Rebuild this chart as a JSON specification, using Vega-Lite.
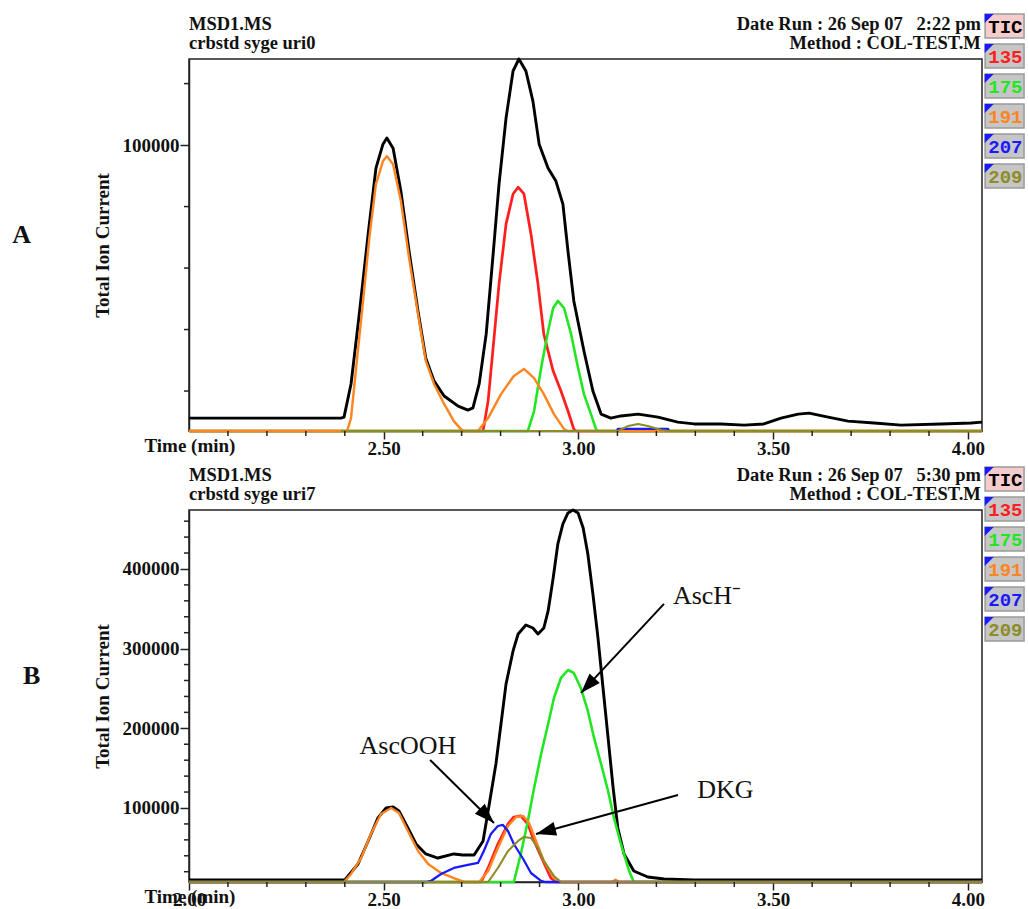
{
"$schema": "https://vega.github.io/schema/vega-lite/v6.json",
"background": "white",
"padding": {"left": 11, "top": 12, "right": 4, "bottom": 2},
"bounds": "flush",
"spacing": 79,
"config": {
 "view": {"stroke": "#222", "strokeWidth": 1.5},
 "axis": {"labelFont": "Liberation Serif", "labelFontWeight": "bold", "labelFontSize": 19, "labelColor": "#111", "titleFont": "Liberation Serif", "titleFontWeight": "bold", "titleFontSize": 19, "titleColor": "#111", "domainColor": "#222", "domainWidth": 1.5, "tickColor": "#222", "tickWidth": 1.5, "grid": false, "labelFlush": false},
 "text": {"color": "#111"}
},
"datasets": {
 "tr": [
  {"p":"A","s":"TIC","t":2.000,"v":11200},{"p":"A","s":"TIC","t":2.390,"v":11200},{"p":"A","s":"TIC","t":2.398,"v":11500},{"p":"A","s":"TIC","t":2.416,"v":22300},{"p":"A","s":"TIC","t":2.436,"v":43700},{"p":"A","s":"TIC","t":2.460,"v":71100},{"p":"A","s":"TIC","t":2.480,"v":92500},{"p":"A","s":"TIC","t":2.498,"v":100300},{"p":"A","s":"TIC","t":2.508,"v":102300},{"p":"A","s":"TIC","t":2.524,"v":99000},{"p":"A","s":"TIC","t":2.544,"v":85000},{"p":"A","s":"TIC","t":2.565,"v":65500},{"p":"A","s":"TIC","t":2.588,"v":46000},{"p":"A","s":"TIC","t":2.608,"v":30700},{"p":"A","s":"TIC","t":2.629,"v":23300},{"p":"A","s":"TIC","t":2.655,"v":18400},{"p":"A","s":"TIC","t":2.691,"v":15100},{"p":"A","s":"TIC","t":2.716,"v":13800},{"p":"A","s":"TIC","t":2.729,"v":14500},{"p":"A","s":"TIC","t":2.745,"v":22300},{"p":"A","s":"TIC","t":2.763,"v":38500},{"p":"A","s":"TIC","t":2.780,"v":63300},{"p":"A","s":"TIC","t":2.796,"v":87300},{"p":"A","s":"TIC","t":2.814,"v":108800},{"p":"A","s":"TIC","t":2.832,"v":124100},{"p":"A","s":"TIC","t":2.847,"v":128000},{"p":"A","s":"TIC","t":2.865,"v":124100},{"p":"A","s":"TIC","t":2.883,"v":114300},{"p":"A","s":"TIC","t":2.899,"v":100300},{"p":"A","s":"TIC","t":2.922,"v":92500},{"p":"A","s":"TIC","t":2.942,"v":88300},{"p":"A","s":"TIC","t":2.960,"v":80800},{"p":"A","s":"TIC","t":2.973,"v":65500},{"p":"A","s":"TIC","t":2.988,"v":49300},{"p":"A","s":"TIC","t":3.014,"v":33000},{"p":"A","s":"TIC","t":3.037,"v":20000},{"p":"A","s":"TIC","t":3.058,"v":12500},{"p":"A","s":"TIC","t":3.083,"v":11200},{"p":"A","s":"TIC","t":3.109,"v":11900},{"p":"A","s":"TIC","t":3.153,"v":12500},{"p":"A","s":"TIC","t":3.204,"v":11500},{"p":"A","s":"TIC","t":3.255,"v":9900},{"p":"A","s":"TIC","t":3.297,"v":9300},{"p":"A","s":"TIC","t":3.366,"v":9300},{"p":"A","s":"TIC","t":3.425,"v":8900},{"p":"A","s":"TIC","t":3.476,"v":9300},{"p":"A","s":"TIC","t":3.520,"v":11200},{"p":"A","s":"TIC","t":3.564,"v":12500},{"p":"A","s":"TIC","t":3.592,"v":12800},{"p":"A","s":"TIC","t":3.641,"v":11500},{"p":"A","s":"TIC","t":3.692,"v":10200},{"p":"A","s":"TIC","t":3.759,"v":9600},{"p":"A","s":"TIC","t":3.828,"v":8900},{"p":"A","s":"TIC","t":3.931,"v":9300},{"p":"A","s":"TIC","t":4.008,"v":9600},{"p":"A","s":"TIC","t":4.036,"v":9900},
  {"p":"A","s":"135","t":2.000,"v":7000},{"p":"A","s":"135","t":2.755,"v":7000},{"p":"A","s":"135","t":2.768,"v":16800},{"p":"A","s":"135","t":2.780,"v":33000},{"p":"A","s":"135","t":2.796,"v":54800},{"p":"A","s":"135","t":2.814,"v":74300},{"p":"A","s":"135","t":2.832,"v":84100},{"p":"A","s":"135","t":2.845,"v":86300},{"p":"A","s":"135","t":2.860,"v":84100},{"p":"A","s":"135","t":2.878,"v":71100},{"p":"A","s":"135","t":2.896,"v":54800},{"p":"A","s":"135","t":2.911,"v":38500},{"p":"A","s":"135","t":2.935,"v":26500},{"p":"A","s":"135","t":2.955,"v":20000},{"p":"A","s":"135","t":2.973,"v":13500},{"p":"A","s":"135","t":2.988,"v":7600},{"p":"A","s":"135","t":2.994,"v":7000},{"p":"A","s":"135","t":4.036,"v":7000},
  {"p":"A","s":"175","t":2.000,"v":7000},{"p":"A","s":"175","t":2.870,"v":7000},{"p":"A","s":"175","t":2.886,"v":13500},{"p":"A","s":"175","t":2.904,"v":27500},{"p":"A","s":"175","t":2.922,"v":39500},{"p":"A","s":"175","t":2.935,"v":47000},{"p":"A","s":"175","t":2.947,"v":49300},{"p":"A","s":"175","t":2.963,"v":47000},{"p":"A","s":"175","t":2.981,"v":38500},{"p":"A","s":"175","t":2.999,"v":27500},{"p":"A","s":"175","t":3.014,"v":19000},{"p":"A","s":"175","t":3.032,"v":12500},{"p":"A","s":"175","t":3.045,"v":7600},{"p":"A","s":"175","t":3.050,"v":7000},{"p":"A","s":"175","t":4.036,"v":7000},
  {"p":"A","s":"191","t":2.000,"v":7000},{"p":"A","s":"191","t":2.406,"v":7000},{"p":"A","s":"191","t":2.416,"v":11200},{"p":"A","s":"191","t":2.429,"v":27500},{"p":"A","s":"191","t":2.447,"v":49300},{"p":"A","s":"191","t":2.463,"v":69800},{"p":"A","s":"191","t":2.480,"v":87300},{"p":"A","s":"191","t":2.498,"v":94800},{"p":"A","s":"191","t":2.508,"v":96400},{"p":"A","s":"191","t":2.524,"v":93800},{"p":"A","s":"191","t":2.544,"v":81800},{"p":"A","s":"191","t":2.565,"v":63300},{"p":"A","s":"191","t":2.588,"v":45000},{"p":"A","s":"191","t":2.608,"v":29800},{"p":"A","s":"191","t":2.629,"v":22300},{"p":"A","s":"191","t":2.655,"v":15800},{"p":"A","s":"191","t":2.680,"v":10200},{"p":"A","s":"191","t":2.698,"v":7600},{"p":"A","s":"191","t":2.706,"v":7000},{"p":"A","s":"191","t":2.742,"v":7000},{"p":"A","s":"191","t":2.768,"v":11200},{"p":"A","s":"191","t":2.801,"v":19000},{"p":"A","s":"191","t":2.834,"v":24900},{"p":"A","s":"191","t":2.860,"v":27200},{"p":"A","s":"191","t":2.886,"v":24200},{"p":"A","s":"191","t":2.911,"v":19000},{"p":"A","s":"191","t":2.937,"v":12500},{"p":"A","s":"191","t":2.963,"v":7600},{"p":"A","s":"191","t":2.973,"v":7000},{"p":"A","s":"191","t":4.036,"v":7000},
  {"p":"A","s":"207","t":3.099,"v":7000},{"p":"A","s":"207","t":3.101,"v":7700},{"p":"A","s":"207","t":3.230,"v":7700},{"p":"A","s":"207","t":3.232,"v":7000},
  {"p":"A","s":"209","t":2.390,"v":7000},{"p":"A","s":"209","t":3.101,"v":7000},{"p":"A","s":"209","t":3.127,"v":8600},{"p":"A","s":"209","t":3.153,"v":9300},{"p":"A","s":"209","t":3.178,"v":8600},{"p":"A","s":"209","t":3.212,"v":7300},{"p":"A","s":"209","t":3.232,"v":7000},{"p":"A","s":"209","t":4.036,"v":7000},
  {"p":"B","s":"TIC","t":2.000,"v":9600},{"p":"B","s":"TIC","t":2.400,"v":9600},{"p":"B","s":"TIC","t":2.434,"v":29700},{"p":"B","s":"TIC","t":2.460,"v":58600},{"p":"B","s":"TIC","t":2.485,"v":87500},{"p":"B","s":"TIC","t":2.506,"v":100000},{"p":"B","s":"TIC","t":2.524,"v":101300},{"p":"B","s":"TIC","t":2.539,"v":96200},{"p":"B","s":"TIC","t":2.562,"v":74900},{"p":"B","s":"TIC","t":2.583,"v":54800},{"p":"B","s":"TIC","t":2.608,"v":42300},{"p":"B","s":"TIC","t":2.639,"v":37200},{"p":"B","s":"TIC","t":2.680,"v":42300},{"p":"B","s":"TIC","t":2.703,"v":41000},{"p":"B","s":"TIC","t":2.732,"v":41000},{"p":"B","s":"TIC","t":2.755,"v":58600},{"p":"B","s":"TIC","t":2.768,"v":96200},{"p":"B","s":"TIC","t":2.788,"v":155200},{"p":"B","s":"TIC","t":2.801,"v":205400},{"p":"B","s":"TIC","t":2.814,"v":255700},{"p":"B","s":"TIC","t":2.832,"v":297100},{"p":"B","s":"TIC","t":2.845,"v":318400},{"p":"B","s":"TIC","t":2.865,"v":329700},{"p":"B","s":"TIC","t":2.883,"v":325900},{"p":"B","s":"TIC","t":2.896,"v":318400},{"p":"B","s":"TIC","t":2.911,"v":325900},{"p":"B","s":"TIC","t":2.922,"v":347300},{"p":"B","s":"TIC","t":2.935,"v":388700},{"p":"B","s":"TIC","t":2.947,"v":431400},{"p":"B","s":"TIC","t":2.960,"v":456500},{"p":"B","s":"TIC","t":2.973,"v":470300},{"p":"B","s":"TIC","t":2.986,"v":474000},{"p":"B","s":"TIC","t":2.999,"v":470300},{"p":"B","s":"TIC","t":3.012,"v":451500},{"p":"B","s":"TIC","t":3.024,"v":418800},{"p":"B","s":"TIC","t":3.037,"v":368600},{"p":"B","s":"TIC","t":3.050,"v":313400},{"p":"B","s":"TIC","t":3.063,"v":250600},{"p":"B","s":"TIC","t":3.076,"v":187900},{"p":"B","s":"TIC","t":3.089,"v":125100},{"p":"B","s":"TIC","t":3.101,"v":74900},{"p":"B","s":"TIC","t":3.117,"v":42300},{"p":"B","s":"TIC","t":3.142,"v":20900},{"p":"B","s":"TIC","t":3.178,"v":13400},{"p":"B","s":"TIC","t":3.220,"v":10900},{"p":"B","s":"TIC","t":3.297,"v":9600},{"p":"B","s":"TIC","t":4.036,"v":9600},
  {"p":"B","s":"135","t":2.000,"v":7100},{"p":"B","s":"135","t":2.750,"v":7100},{"p":"B","s":"135","t":2.768,"v":24700},{"p":"B","s":"135","t":2.793,"v":54800},{"p":"B","s":"135","t":2.819,"v":79900},{"p":"B","s":"135","t":2.834,"v":88700},{"p":"B","s":"135","t":2.852,"v":90000},{"p":"B","s":"135","t":2.870,"v":79900},{"p":"B","s":"135","t":2.886,"v":58600},{"p":"B","s":"135","t":2.909,"v":33500},{"p":"B","s":"135","t":2.929,"v":12100},{"p":"B","s":"135","t":2.942,"v":7100},{"p":"B","s":"135","t":4.036,"v":7100},
  {"p":"B","s":"175","t":2.000,"v":7100},{"p":"B","s":"175","t":2.834,"v":7100},{"p":"B","s":"175","t":2.852,"v":42300},{"p":"B","s":"175","t":2.870,"v":83700},{"p":"B","s":"175","t":2.886,"v":125100},{"p":"B","s":"175","t":2.904,"v":167800},{"p":"B","s":"175","t":2.922,"v":205400},{"p":"B","s":"175","t":2.937,"v":238100},{"p":"B","s":"175","t":2.955,"v":263200},{"p":"B","s":"175","t":2.973,"v":273200},{"p":"B","s":"175","t":2.988,"v":269500},{"p":"B","s":"175","t":3.006,"v":250600},{"p":"B","s":"175","t":3.024,"v":221800},{"p":"B","s":"175","t":3.040,"v":187900},{"p":"B","s":"175","t":3.058,"v":155200},{"p":"B","s":"175","t":3.076,"v":121300},{"p":"B","s":"175","t":3.091,"v":87500},{"p":"B","s":"175","t":3.109,"v":54800},{"p":"B","s":"175","t":3.130,"v":20900},{"p":"B","s":"175","t":3.142,"v":7100},{"p":"B","s":"175","t":4.036,"v":7100},
  {"p":"B","s":"191","t":2.000,"v":7100},{"p":"B","s":"191","t":2.398,"v":7100},{"p":"B","s":"191","t":2.416,"v":17200},{"p":"B","s":"191","t":2.442,"v":37200},{"p":"B","s":"191","t":2.467,"v":67400},{"p":"B","s":"191","t":2.493,"v":92500},{"p":"B","s":"191","t":2.519,"v":100000},{"p":"B","s":"191","t":2.539,"v":93700},{"p":"B","s":"191","t":2.562,"v":71100},{"p":"B","s":"191","t":2.588,"v":46000},{"p":"B","s":"191","t":2.614,"v":29700},{"p":"B","s":"191","t":2.647,"v":18400},{"p":"B","s":"191","t":2.680,"v":12100},{"p":"B","s":"191","t":2.706,"v":7100},{"p":"B","s":"191","t":2.745,"v":7100},{"p":"B","s":"191","t":2.768,"v":20900},{"p":"B","s":"191","t":2.793,"v":49800},{"p":"B","s":"191","t":2.819,"v":77400},{"p":"B","s":"191","t":2.840,"v":88700},{"p":"B","s":"191","t":2.858,"v":90000},{"p":"B","s":"191","t":2.873,"v":81200},{"p":"B","s":"191","t":2.891,"v":58600},{"p":"B","s":"191","t":2.911,"v":33500},{"p":"B","s":"191","t":2.937,"v":12100},{"p":"B","s":"191","t":2.955,"v":7100},{"p":"B","s":"191","t":3.085,"v":7100},{"p":"B","s":"191","t":3.095,"v":10000},{"p":"B","s":"191","t":3.105,"v":7100},{"p":"B","s":"191","t":4.036,"v":7100},
  {"p":"B","s":"207","t":2.000,"v":7100},{"p":"B","s":"207","t":2.608,"v":7100},{"p":"B","s":"207","t":2.621,"v":8400},{"p":"B","s":"207","t":2.647,"v":17200},{"p":"B","s":"207","t":2.680,"v":24700},{"p":"B","s":"207","t":2.716,"v":28500},{"p":"B","s":"207","t":2.742,"v":31000},{"p":"B","s":"207","t":2.757,"v":46000},{"p":"B","s":"207","t":2.775,"v":67400},{"p":"B","s":"207","t":2.793,"v":77400},{"p":"B","s":"207","t":2.806,"v":78700},{"p":"B","s":"207","t":2.819,"v":71100},{"p":"B","s":"207","t":2.834,"v":54800},{"p":"B","s":"207","t":2.858,"v":36000},{"p":"B","s":"207","t":2.878,"v":18400},{"p":"B","s":"207","t":2.904,"v":8400},{"p":"B","s":"207","t":2.915,"v":7100},{"p":"B","s":"207","t":4.036,"v":7100},
  {"p":"B","s":"209","t":2.000,"v":7100},{"p":"B","s":"209","t":2.768,"v":7100},{"p":"B","s":"209","t":2.793,"v":24700},{"p":"B","s":"209","t":2.819,"v":46000},{"p":"B","s":"209","t":2.845,"v":58600},{"p":"B","s":"209","t":2.860,"v":63600},{"p":"B","s":"209","t":2.878,"v":62400},{"p":"B","s":"209","t":2.896,"v":49800},{"p":"B","s":"209","t":2.911,"v":33500},{"p":"B","s":"209","t":2.937,"v":14700},{"p":"B","s":"209","t":2.955,"v":7100},{"p":"B","s":"209","t":4.036,"v":7100}
 ],
 "ann": [
  {"p":"A","k":"hl","txt":"MSD1.MS","t":2.0,"v":137400},
  {"p":"A","k":"hl","txt":"crbstd syge uri0","t":2.0,"v":131200},
  {"p":"A","k":"hr","txt":"Date Run : 26 Sep 07\u00a0\u00a0\u00a02:22 pm","t":4.033,"v":137400},
  {"p":"A","k":"hr","txt":"Method : COL-TEST.M","t":4.033,"v":131200},
  {"p":"A","k":"pl","txt":"A","t":1.570,"v":68100},
  {"p":"B","k":"hl","txt":"MSD1.MS","t":2.0,"v":510400},
  {"p":"B","k":"hl","txt":"crbstd syge uri7","t":2.0,"v":486600},
  {"p":"B","k":"hr","txt":"Date Run : 26 Sep 07\u00a0\u00a0\u00a05:30 pm","t":4.033,"v":510400},
  {"p":"B","k":"hr","txt":"Method : COL-TEST.M","t":4.033,"v":486600},
  {"p":"B","k":"pl","txt":"B","t":1.596,"v":255700},
  {"p":"B","k":"an","txt":"AscH\u207b","t":3.330,"v":356100},
  {"p":"B","k":"an","txt":"AscOOH","t":2.562,"v":167800},
  {"p":"B","k":"an","txt":"DKG","t":3.377,"v":112600}
 ],
 "arr": [
  {"id":1,"t":3.2195,"v":356100,"t2":3.0064,"v2":244400},
  {"id":2,"t":2.619,"v":160300,"t2":2.783,"v2":81200},
  {"id":3,"t":3.2555,"v":116300,"t2":2.891,"v2":67400}
 ],
 "mt": [
  {"a":"x","m":2.1},{"a":"x","m":2.2},{"a":"x","m":2.3},{"a":"x","m":2.4},{"a":"x","m":2.6},{"a":"x","m":2.7},{"a":"x","m":2.8},{"a":"x","m":2.9},{"a":"x","m":3.1},{"a":"x","m":3.2},{"a":"x","m":3.3},{"a":"x","m":3.4},{"a":"x","m":3.6},{"a":"x","m":3.7},{"a":"x","m":3.8},{"a":"x","m":3.9},
  {"a":"yA","m":20000},{"a":"yA","m":40000},{"a":"yA","m":60000},{"a":"yA","m":80000},{"a":"yA","m":120000},
  {"a":"yB","m":20000},{"a":"yB","m":40000},{"a":"yB","m":60000},{"a":"yB","m":80000},{"a":"yB","m":120000},{"a":"yB","m":140000},{"a":"yB","m":160000},{"a":"yB","m":180000},{"a":"yB","m":220000},{"a":"yB","m":240000},{"a":"yB","m":260000},{"a":"yB","m":280000},{"a":"yB","m":320000},{"a":"yB","m":340000},{"a":"yB","m":360000},{"a":"yB","m":380000},{"a":"yB","m":420000},{"a":"yB","m":440000},{"a":"yB","m":460000}
 ],
 "leg": [{"s":"TIC"},{"s":"135"},{"s":"175"},{"s":"191"},{"s":"207"},{"s":"209"}]
},
"vconcat": [
 {
  "width": 793, "height": 372,
  "resolve": {"scale": {"y": "independent"}},
  "layer": [
   {"layer": [
    {"data": {"name": "tr"}, "transform": [{"filter": "datum.p === 'A'"}],
     "mark": {"type": "line", "strokeJoin": "round"},
     "encoding": {
      "x": {"field": "t", "type": "quantitative", "scale": {"domain": [2, 4.036], "nice": false, "zero": false},
        "axis": {"values": [2.5, 3, 3.5, 4], "format": ".2f", "tickSize": 8, "labelOverlap": false, "labelBound": false,
          "labelPadding": 0, "title": "Time (min)", "titleX": -45, "titleY": 20, "titleAlign": "left", "titleBaseline": "alphabetic", "titleAnchor": "start"}},
      "y": {"field": "v", "type": "quantitative", "scale": {"domain": [7000, 128000], "nice": false, "zero": false},
        "axis": {"values": [100000], "format": "d", "tickSize": 9, "labelOverlap": false, "labelBound": false,
          "labelPadding": 1, "title": "Total Ion Current", "titleX": -87, "titleY": 186, "titleAngle": -90, "titleAlign": "center", "titleBaseline": "middle"}},
      "color": {"field": "s", "type": "nominal", "scale": {"domain": ["TIC","135","175","191","207","209"], "range": ["#000000","#ff1f1f","#22e622","#ff8522","#1a1aff","#8c8c28"]}, "legend": null},
      "strokeWidth": {"field": "s", "type": "nominal", "scale": {"domain": ["TIC","135","175","191","207","209"], "range": [2.9,2.1,2.1,2.1,2.1,2.1]}, "legend": null}
     }},
    {"data": {"name": "mt"}, "transform": [{"filter": "datum.a === 'x'"}],
     "mark": {"type": "tick", "orient": "vertical", "size": 5, "thickness": 1.5, "color": "#222", "opacity": 1, "yOffset": 2.5},
     "encoding": {"x": {"field": "m", "type": "quantitative"}, "y": {"datum": 7000, "type": "quantitative"}}},
    {"data": {"name": "mt"}, "transform": [{"filter": "datum.a === 'yA'"}],
     "mark": {"type": "tick", "orient": "horizontal", "size": 5, "thickness": 1.5, "color": "#222", "opacity": 1, "xOffset": -2.5},
     "encoding": {"y": {"field": "m", "type": "quantitative"}, "x": {"datum": 2, "type": "quantitative"}}},
    {"data": {"name": "ann"}, "transform": [{"filter": "datum.p === 'A' && datum.k === 'hl'"}],
     "mark": {"type": "text", "align": "left", "baseline": "alphabetic", "font": "Liberation Serif", "fontWeight": "bold", "fontSize": 18.5},
     "encoding": {"x": {"field": "t", "type": "quantitative"}, "y": {"field": "v", "type": "quantitative"}, "text": {"field": "txt"}}},
    {"data": {"name": "ann"}, "transform": [{"filter": "datum.p === 'A' && datum.k === 'hr'"}],
     "mark": {"type": "text", "align": "right", "baseline": "alphabetic", "font": "Liberation Serif", "fontWeight": "bold", "fontSize": 18.5},
     "encoding": {"x": {"field": "t", "type": "quantitative"}, "y": {"field": "v", "type": "quantitative"}, "text": {"field": "txt"}}},
    {"data": {"name": "ann"}, "transform": [{"filter": "datum.p === 'A' && datum.k === 'pl'"}],
     "mark": {"type": "text", "align": "center", "baseline": "alphabetic", "font": "Liberation Serif", "fontWeight": "bold", "fontSize": 26},
     "encoding": {"x": {"field": "t", "type": "quantitative"}, "y": {"field": "v", "type": "quantitative"}, "text": {"field": "txt"}}}
   ]},
   {"layer": [
    {"data": {"name": "leg"}, "mark": {"type": "rect", "stroke": "#9a9a9a", "strokeWidth": 1.5},
     "encoding": {"x": {"datum": 4.044, "type": "quantitative"}, "x2": {"datum": 4.144},
      "y": {"field": "s", "type": "nominal", "scale": {"type": "band", "domain": ["TIC","135","175","191","207","209"], "range": [-48, 132], "paddingInner": 0.2, "paddingOuter": 0.1}, "axis": null},
      "fill": {"field": "s", "type": "nominal", "scale": {"domain": ["TIC","135","175","191","207","209"], "range": ["#f4cccc","#c6c6c6","#c6c6c6","#c6c6c6","#c6c6c6","#c6c6c6"]}, "legend": null}}},
    {"data": {"name": "leg"}, "mark": {"type": "point", "shape": "M-1,-1L1,-1L-1,1Z", "filled": true, "color": "#1a1aff", "opacity": 1, "size": 81, "yOffset": -7.5},
     "encoding": {"x": {"datum": 4.0545, "type": "quantitative"}, "y": {"field": "s", "type": "nominal", "axis": null}}},
    {"data": {"name": "leg"}, "mark": {"type": "text", "font": "Liberation Mono", "fontWeight": "bold", "fontSize": 19, "baseline": "middle", "align": "center", "dy": 1},
     "encoding": {"x": {"datum": 4.096, "type": "quantitative"}, "y": {"field": "s", "type": "nominal", "axis": null}, "text": {"field": "s"},
      "color": {"field": "s", "type": "nominal", "scale": {"domain": ["TIC","135","175","191","207","209"], "range": ["#000000","#ff1f1f","#22e622","#ff8522","#1a1aff","#8c8c28"]}, "legend": null}}}
   ]}
  ]
 },
 {
  "width": 793, "height": 372,
  "resolve": {"scale": {"y": "independent"}},
  "layer": [
   {"layer": [
    {"data": {"name": "tr"}, "transform": [{"filter": "datum.p === 'B'"}],
     "mark": {"type": "line", "strokeJoin": "round"},
     "encoding": {
      "x": {"field": "t", "type": "quantitative", "scale": {"domain": [2, 4.036], "nice": false, "zero": false},
        "axis": {"values": [2, 2.5, 3, 3.5, 4], "format": ".2f", "tickSize": 8, "labelOverlap": false, "labelBound": false,
          "labelPadding": 0, "title": "Time (min)", "titleX": -45, "titleY": 20, "titleAlign": "left", "titleBaseline": "alphabetic", "titleAnchor": "start"}},
      "y": {"field": "v", "type": "quantitative", "scale": {"domain": [7100, 474000], "nice": false, "zero": false},
        "axis": {"values": [100000, 200000, 300000, 400000], "format": "d", "tickSize": 9, "labelOverlap": false, "labelBound": false,
          "labelPadding": 1, "title": "Total Ion Current", "titleX": -87, "titleY": 186, "titleAngle": -90, "titleAlign": "center", "titleBaseline": "middle"}},
      "color": {"field": "s", "type": "nominal", "scale": {"domain": ["TIC","135","175","191","207","209"], "range": ["#000000","#ff1f1f","#22e622","#ff8522","#1a1aff","#8c8c28"]}, "legend": null},
      "strokeWidth": {"field": "s", "type": "nominal", "scale": {"domain": ["TIC","135","175","191","207","209"], "range": [2.9,2.1,2.1,2.1,2.1,2.1]}, "legend": null}
     }},
    {"data": {"name": "mt"}, "transform": [{"filter": "datum.a === 'x'"}],
     "mark": {"type": "tick", "orient": "vertical", "size": 5, "thickness": 1.5, "color": "#222", "opacity": 1, "yOffset": 2.5},
     "encoding": {"x": {"field": "m", "type": "quantitative"}, "y": {"datum": 7100, "type": "quantitative"}}},
    {"data": {"name": "mt"}, "transform": [{"filter": "datum.a === 'yB'"}],
     "mark": {"type": "tick", "orient": "horizontal", "size": 5, "thickness": 1.5, "color": "#222", "opacity": 1, "xOffset": -2.5},
     "encoding": {"y": {"field": "m", "type": "quantitative"}, "x": {"datum": 2, "type": "quantitative"}}},
    {"data": {"name": "arr"},
     "mark": {"type": "rule", "color": "#000", "strokeWidth": 2},
     "encoding": {"x": {"field": "t", "type": "quantitative"}, "y": {"field": "v", "type": "quantitative"}, "x2": {"field": "t2"}, "y2": {"field": "v2"}}},
    {"data": {"name": "arr"}, "transform": [{"filter": "datum.id === 1"}],
     "mark": {"type": "point", "shape": "M0,0L0.7,2L-0.7,2Z", "filled": true, "color": "#000", "opacity": 1, "size": 400, "angle": 223},
     "encoding": {"x": {"field": "t2", "type": "quantitative"}, "y": {"field": "v2", "type": "quantitative"}}},
    {"data": {"name": "arr"}, "transform": [{"filter": "datum.id === 2"}],
     "mark": {"type": "point", "shape": "M0,0L0.7,2L-0.7,2Z", "filled": true, "color": "#000", "opacity": 1, "size": 400, "angle": 135},
     "encoding": {"x": {"field": "t2", "type": "quantitative"}, "y": {"field": "v2", "type": "quantitative"}}},
    {"data": {"name": "arr"}, "transform": [{"filter": "datum.id === 3"}],
     "mark": {"type": "point", "shape": "M0,0L0.7,2L-0.7,2Z", "filled": true, "color": "#000", "opacity": 1, "size": 400, "angle": 255},
     "encoding": {"x": {"field": "t2", "type": "quantitative"}, "y": {"field": "v2", "type": "quantitative"}}},
    {"data": {"name": "ann"}, "transform": [{"filter": "datum.p === 'B' && datum.k === 'an'"}],
     "mark": {"type": "text", "align": "center", "baseline": "alphabetic", "font": "Liberation Serif", "fontSize": 26},
     "encoding": {"x": {"field": "t", "type": "quantitative"}, "y": {"field": "v", "type": "quantitative"}, "text": {"field": "txt"}}},
    {"data": {"name": "ann"}, "transform": [{"filter": "datum.p === 'B' && datum.k === 'hl'"}],
     "mark": {"type": "text", "align": "left", "baseline": "alphabetic", "font": "Liberation Serif", "fontWeight": "bold", "fontSize": 18.5},
     "encoding": {"x": {"field": "t", "type": "quantitative"}, "y": {"field": "v", "type": "quantitative"}, "text": {"field": "txt"}}},
    {"data": {"name": "ann"}, "transform": [{"filter": "datum.p === 'B' && datum.k === 'hr'"}],
     "mark": {"type": "text", "align": "right", "baseline": "alphabetic", "font": "Liberation Serif", "fontWeight": "bold", "fontSize": 18.5},
     "encoding": {"x": {"field": "t", "type": "quantitative"}, "y": {"field": "v", "type": "quantitative"}, "text": {"field": "txt"}}},
    {"data": {"name": "ann"}, "transform": [{"filter": "datum.p === 'B' && datum.k === 'pl'"}],
     "mark": {"type": "text", "align": "center", "baseline": "alphabetic", "font": "Liberation Serif", "fontWeight": "bold", "fontSize": 26},
     "encoding": {"x": {"field": "t", "type": "quantitative"}, "y": {"field": "v", "type": "quantitative"}, "text": {"field": "txt"}}}
   ]},
   {"layer": [
    {"data": {"name": "leg"}, "mark": {"type": "rect", "stroke": "#9a9a9a", "strokeWidth": 1.5},
     "encoding": {"x": {"datum": 4.044, "type": "quantitative"}, "x2": {"datum": 4.144},
      "y": {"field": "s", "type": "nominal", "scale": {"type": "band", "domain": ["TIC","135","175","191","207","209"], "range": [-46, 134], "paddingInner": 0.2, "paddingOuter": 0.1}, "axis": null},
      "fill": {"field": "s", "type": "nominal", "scale": {"domain": ["TIC","135","175","191","207","209"], "range": ["#f4cccc","#c6c6c6","#c6c6c6","#c6c6c6","#c6c6c6","#c6c6c6"]}, "legend": null}}},
    {"data": {"name": "leg"}, "mark": {"type": "point", "shape": "M-1,-1L1,-1L-1,1Z", "filled": true, "color": "#1a1aff", "opacity": 1, "size": 81, "yOffset": -7.5},
     "encoding": {"x": {"datum": 4.0545, "type": "quantitative"}, "y": {"field": "s", "type": "nominal", "axis": null}}},
    {"data": {"name": "leg"}, "mark": {"type": "text", "font": "Liberation Mono", "fontWeight": "bold", "fontSize": 19, "baseline": "middle", "align": "center", "dy": 1},
     "encoding": {"x": {"datum": 4.096, "type": "quantitative"}, "y": {"field": "s", "type": "nominal", "axis": null}, "text": {"field": "s"},
      "color": {"field": "s", "type": "nominal", "scale": {"domain": ["TIC","135","175","191","207","209"], "range": ["#000000","#ff1f1f","#22e622","#ff8522","#1a1aff","#8c8c28"]}, "legend": null}}}
   ]}
  ]
 }
]
}
